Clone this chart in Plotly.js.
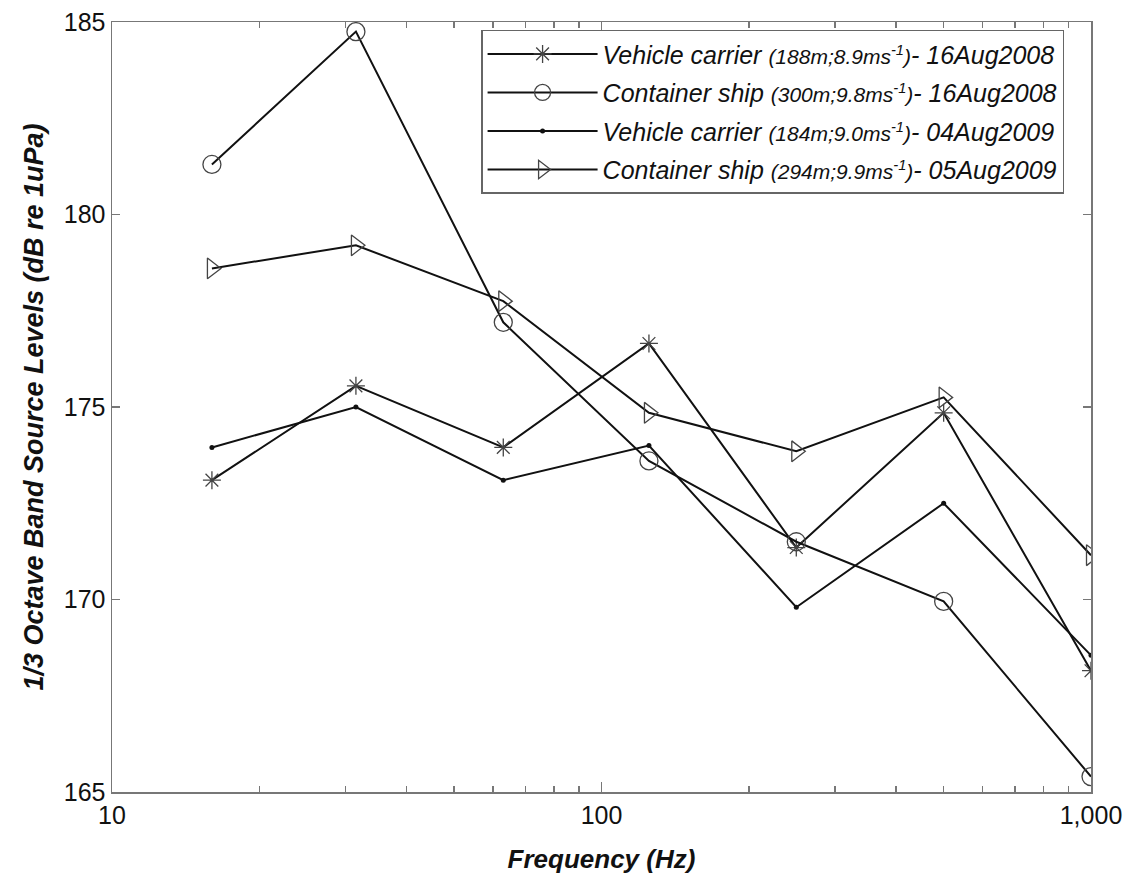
<!DOCTYPE html>
<html>
<head>
<meta charset="utf-8">
<script src="https://cdn.plot.ly/plotly-3.0.1.min.js"></script>
<style>html,body{margin:0;padding:0;background:#fff;}#chart{width:1143px;height:884px;}</style>
</head>
<body>
<div id="chart"></div>
<script>
const frequency = [16, 31.5, 63, 125, 250, 500, 1000];
const vehicle2008 = [173.1, 175.55, 173.95, 176.65, 171.35, 174.85, 168.15];
const container2008 = [181.3, 184.75, 177.2, 173.6, 171.5, 169.95, 165.4];
const vehicle2009 = [173.95, 175.0, 173.1, 174.0, 169.8, 172.5, 168.55];
const container2009 = [178.6, 179.2, 177.75, 174.85, 173.85, 175.25, 171.15];

const seriesNames = [
  'Vehicle carrier <span style="font-size:21px">(188m;8.9ms<sup>-1</sup>)</span>- 16Aug2008',
  'Container ship <span style="font-size:21px">(300m;9.8ms<sup>-1</sup>)</span>- 16Aug2008',
  'Vehicle carrier <span style="font-size:21px">(184m;9.0ms<sup>-1</sup>)</span>- 04Aug2009',
  'Container ship <span style="font-size:21px">(294m;9.9ms<sup>-1</sup>)</span>- 05Aug2009'
];
const xMajor = [10, 100, 1000];
const xMajorText = ['10', '100', '1,000'];
const xMinor = [20,30,40,50,60,70,80,90,200,300,400,500,600,700,800,900];
const yTicks = [165, 170, 175, 180, 185];

const FONT = '"Liberation Sans", Arial, sans-serif';
const mkLine = {color: '#111', width: 2};

const traces = [
  {x: frequency, y: vehicle2008, name: seriesNames[0], legendgroup: 'a', mode: 'lines+markers', line: mkLine,
   marker: {symbol: 'asterisk-open', size: 15, color: '#444', line: {color: '#444', width: 1.3}}},
  {x: frequency, y: container2008, name: seriesNames[1], legendgroup: 'b', mode: 'lines+markers', line: mkLine,
   marker: {symbol: 'circle-open', size: 18, color: '#444', line: {color: '#444', width: 1.3}}},
  {x: frequency, y: vehicle2009, name: seriesNames[2], legendgroup: 'c', mode: 'lines+markers', line: mkLine,
   marker: {symbol: 'circle', size: 5, color: '#111'}},
  {x: frequency, y: container2009, name: seriesNames[3], legendgroup: 'd', mode: 'lines+markers', line: mkLine,
   marker: {symbol: 'triangle-right-open', size: 18, color: '#444', line: {color: '#444', width: 1.3}}}
];

const layout = {
  width: 1143, height: 884,
  margin: {l: 112, r: 52, t: 22, b: 92},
  paper_bgcolor: '#fff', plot_bgcolor: '#fff',
  font: {family: FONT, color: '#111', size: 20},
  showlegend: true,
  legend: {
    x: 0.377, y: 0.99, xanchor: 'left', yanchor: 'top',
    bgcolor: '#fff', bordercolor: '#666', borderwidth: 1.5,
    font: {family: FONT, size: 25, color: '#111', style: 'italic'},
    itemwidth: 110, tracegroupgap: 3
  },
  xaxis: {
    type: 'log', range: [1, 3],
    tickmode: 'array', tickvals: xMajor, ticktext: xMajorText,
    ticks: 'inside', ticklen: 10, tickwidth: 1.5, tickcolor: '#777',
    minor: {tickmode: 'array', tickvals: xMinor, ticks: 'inside', ticklen: 6, tickwidth: 1.5, tickcolor: '#777'},
    showline: true, linecolor: '#777', linewidth: 1.5, mirror: 'ticks',
    showgrid: false, zeroline: false,
    tickfont: {family: FONT, size: 25, color: '#111'},
    title: {text: '<b><i>Frequency (Hz)</i></b>', font: {family: FONT, size: 26, color: '#111'}, standoff: 22}
  },
  yaxis: {
    range: [165, 185],
    tickmode: 'array', tickvals: yTicks,
    ticks: 'inside', ticklen: 8, tickwidth: 1.5, tickcolor: '#777',
    showline: true, linecolor: '#777', linewidth: 1.5, mirror: 'ticks',
    showgrid: false, zeroline: false,
    tickfont: {family: FONT, size: 25, color: '#111'},
    title: {text: '<b><i>1/3 Octave Band Source Levels (dB re 1uPa)</i></b>', font: {family: FONT, size: 27, color: '#111'}, standoff: 12}
  }
};

Plotly.newPlot('chart', traces, layout, {displayModeBar: false, staticPlot: true});
</script>
</body>
</html>
